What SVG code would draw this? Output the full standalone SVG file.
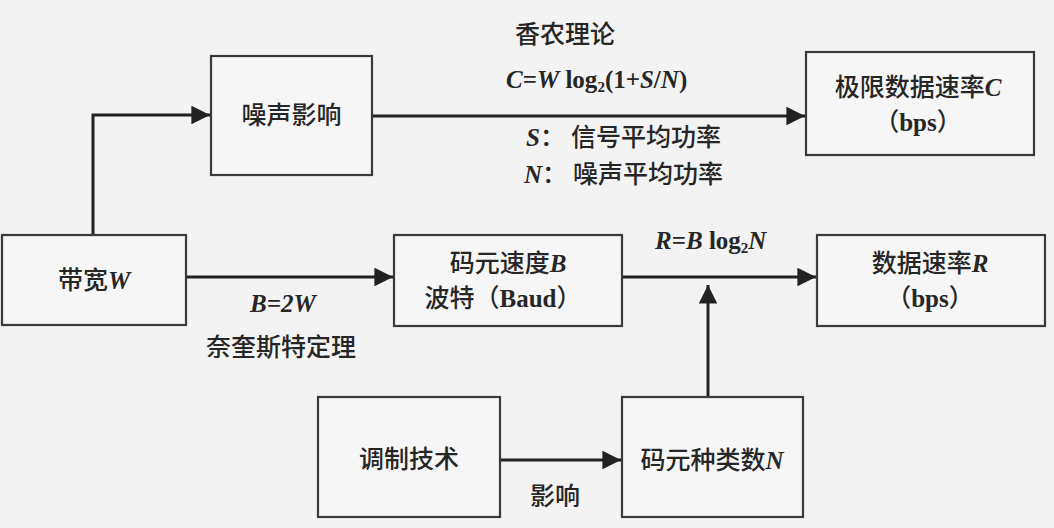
<svg xmlns="http://www.w3.org/2000/svg" width="1054" height="528" viewBox="0 0 1054 528">
<style>
.bg{fill:#f3f3f3}
.box{fill:#f6f6f6;stroke:#3a3a3a;stroke-width:2.2}
.ln{fill:none;stroke:#222;stroke-width:3}
.cn{font-family:"Noto Sans CJK SC","Liberation Serif",sans-serif;font-size:25px;fill:#262626;font-weight:500}
.m{font-family:"Liberation Serif","Noto Sans CJK SC",serif;font-weight:bold}
.i{font-style:italic}
.mid{text-anchor:middle}
</style>
<defs>
<marker id="ah" viewBox="0 0 10 10" refX="10" refY="5" markerWidth="7.5" markerHeight="6.2" markerUnits="strokeWidth" orient="auto">
<path d="M0,0 L10,5 L0,10 z" fill="#222"/>
</marker>
</defs>
<rect class="bg" x="0" y="0" width="1054" height="528"/>
<g id="connectors">
<path class="ln" d="M93,235 V115 H210" marker-end="url(#ah)"/>
<path class="ln" d="M372,116 H805" marker-end="url(#ah)"/>
<path class="ln" d="M186,277 H393" marker-end="url(#ah)"/>
<path class="ln" d="M622,277 H816" marker-end="url(#ah)"/>
<path class="ln" d="M708,397 V285" marker-end="url(#ah)"/>
<path class="ln" d="M500,460 H621" marker-end="url(#ah)"/>
</g>
<g id="labels">
<text class="cn" x="515" y="43">香农理论</text>
<text class="cn m" x="506" y="88" font-size="23"><tspan class="i">C</tspan>=<tspan class="i">W</tspan> log<tspan font-size="15" dy="4">2</tspan><tspan dy="-4">(1+</tspan><tspan class="i">S</tspan>/<tspan class="i">N</tspan>)</text>
<text class="cn" x="526" y="146" font-size="26"><tspan class="m i">S</tspan>：<tspan x="571">信号平均功率</tspan></text>
<text class="cn" x="524" y="183" font-size="26"><tspan class="m i">N</tspan>：<tspan x="573">噪声平均功率</tspan></text>
<text class="cn m" x="655" y="249" font-size="23"><tspan class="i">R</tspan>=<tspan class="i">B</tspan> log<tspan font-size="15" dy="4">2</tspan><tspan class="i" dy="-4">N</tspan></text>
<text class="cn m i" x="250" y="312" font-size="23">B=2W</text>
<text class="cn" x="206" y="356">奈奎斯特定理</text>
<text class="cn" x="530" y="505">影响</text>
</g>
<g id="noise">
<rect class="box" x="211" y="56" width="161" height="119"/>
<text class="cn mid" x="291.5" y="124">噪声影响</text>
</g>
<g id="limit">
<rect class="box" x="806" y="52" width="228" height="103"/>
<text class="cn mid" x="918" y="96">极限数据速率<tspan class="m i">C</tspan></text>
<text class="cn mid" x="918" y="131">（<tspan class="m">bps</tspan>）</text>
</g>
<g id="bandwidth">
<rect class="box" x="2" y="235" width="184" height="90"/>
<text class="cn mid" x="94" y="289">带宽<tspan class="m i">W</tspan></text>
</g>
<g id="baud">
<rect class="box" x="394" y="235" width="228" height="91"/>
<text class="cn mid" x="508" y="272">码元速度<tspan class="m i">B</tspan></text>
<text class="cn mid" x="503" y="307">波特（<tspan class="m">Baud</tspan>）</text>
</g>
<g id="rate">
<rect class="box" x="817" y="235" width="228" height="91"/>
<text class="cn mid" x="930" y="272">数据速率<tspan class="m i">R</tspan></text>
<text class="cn mid" x="930" y="307">（<tspan class="m">bps</tspan>）</text>
</g>
<g id="modulation">
<rect class="box" x="318" y="397" width="182" height="120"/>
<text class="cn mid" x="409" y="468">调制技术</text>
</g>
<g id="symbols">
<rect class="box" x="622" y="397" width="181" height="120"/>
<text class="cn mid" x="712" y="469">码元种类数<tspan class="m i">N</tspan></text>
</g>
</svg>
